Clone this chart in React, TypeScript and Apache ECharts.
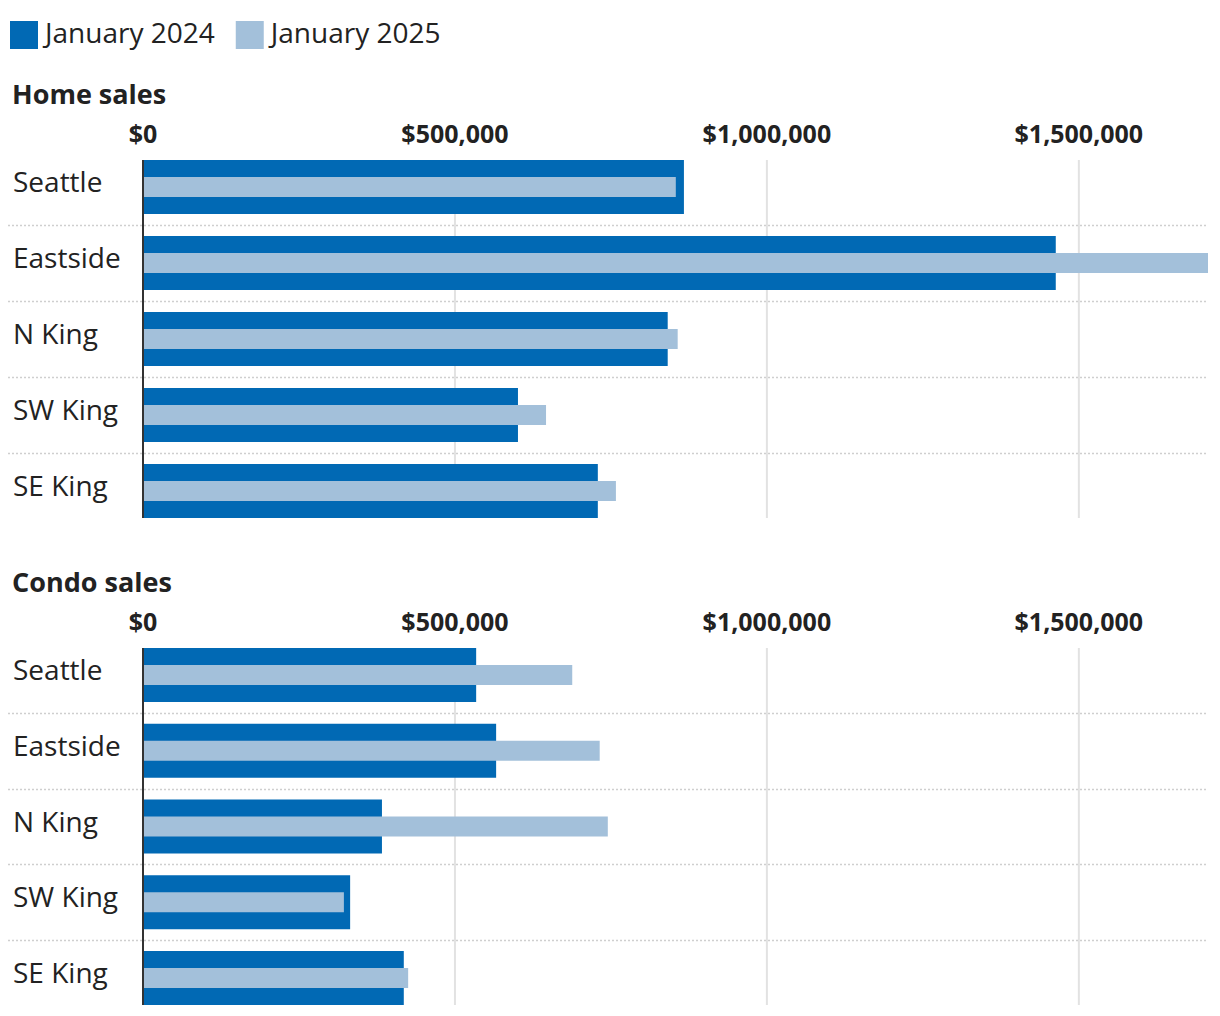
import React, { useEffect, useRef } from "react";
import * as echarts from "echarts";

const CATEGORIES = ["Seattle", "Eastside", "N King", "SW King", "SE King"];
const HOME_2024 = [867000, 1463000, 841000, 601000, 729000];
const HOME_2025 = [854000, 1707000, 857000, 646000, 758000];
const CONDO_2024 = [534000, 566000, 383000, 332000, 418000];
const CONDO_2025 = [688000, 732000, 745000, 322000, 425000];
const TICKS = [0, 500000, 1000000, 1500000];
const SERIES_NAMES = ["January 2024", "January 2025"];
const PANEL_TITLES = ["Home sales", "Condo sales"];

const DARK = "#0169b4";
const LIGHT = "#a3c0da";
const TEXT = "#222222";
const FONT = "'Open Sans', 'Noto Sans', sans-serif";
const BAR_W = 54;
const BAR_W2 = 20;

export default function App() {
  const ref = useRef<HTMLDivElement>(null);
  useEffect(() => {
    document.body.style.margin = "0";
    const chart = echarts.init(ref.current!, null, { renderer: "svg" });
    const maxVal = Math.max(...HOME_2024, ...HOME_2025, ...CONDO_2024, ...CONDO_2025);
    const panels = [
      { top: 149, d24: HOME_2024, d25: HOME_2025, title: PANEL_TITLES[0], titleTop: 80 },
      { top: 637, d24: CONDO_2024, d25: CONDO_2025, title: PANEL_TITLES[1], titleTop: 568 },
    ];

    const grid: any[] = [];
    const xAxis: any[] = [];
    const yAxis: any[] = [];
    const series: any[] = [];
    const title: any[] = [];

    const vLine = (color: string, width: number) => (params: any, api: any) => {
      const v = api.value(0);
      const a = api.coord([v, 0]);
      const b = api.coord([v, CATEGORIES.length - 1]);
      return {
        type: "line",
        shape: { x1: a[0], y1: a[1] - BAR_W / 2, x2: b[0], y2: b[1] + BAR_W / 2 },
        style: { stroke: color, lineWidth: width },
        silent: true,
      };
    };

    panels.forEach((p, i) => {
      title.push({
        text: p.title,
        left: 12,
        top: p.titleTop,
        padding: 0,
        textStyle: { fontFamily: FONT, fontSize: 27, fontWeight: "bold", color: TEXT },
      });
      grid.push({ left: 143, right: 12, top: p.top, height: 380 });
      xAxis.push({
        gridIndex: i,
        type: "value",
        position: "top",
        min: 0,
        max: maxVal,
        interval: 500000,
        axisLine: { show: false },
        axisTick: { show: false },
        splitLine: { show: false },
        axisLabel: {
          showMaxLabel: false,
          margin: 16,
          verticalAlign: "middle",
          fontFamily: FONT,
          fontSize: 25,
          fontWeight: "bold",
          color: TEXT,
          formatter: (v: number) => "$" + v.toLocaleString("en-US"),
        },
      });
      yAxis.push({
        gridIndex: i,
        type: "category",
        inverse: true,
        data: CATEGORIES,
        axisLine: { show: false },
        axisTick: { show: false },
        splitLine: { show: false },
        axisLabel: {
          align: "left",
          margin: 130,
          formatter: (v: string) => "{c|" + v + "}",
          rich: {
            c: {
              fontFamily: FONT,
              fontSize: 28,
              color: TEXT,
              padding: [0, 0, 12, 0],
            },
          },
        },
      });
      yAxis.push({
        gridIndex: i,
        type: "category",
        inverse: true,
        data: CATEGORIES,
        show: false,
      });
      // vertical gridlines (non-zero ticks)
      series.push({
        type: "custom",
        xAxisIndex: i,
        yAxisIndex: 2 * i,
        z: 1,
        silent: true,
        data: TICKS.filter((t) => t > 0).map((t) => [t, 0]),
        renderItem: vLine("#e2e2e2", 2),
      });
      // dotted separators between categories
      series.push({
        type: "custom",
        xAxisIndex: i,
        yAxisIndex: 2 * i,
        z: 1,
        silent: true,
        data: CATEGORIES.slice(1).map((_, k) => [0, k + 1]),
        renderItem: (params: any, api: any) => {
          const k = api.value(1);
          const a = api.coord([0, k - 1]);
          const b = api.coord([0, k]);
          const y = Math.round((a[1] + b[1]) / 2) + 0.5;
          const cs = params.coordSys;
          return {
            type: "line",
            shape: { x1: cs.x - 135, y1: y, x2: cs.x + cs.width, y2: y },
            style: { stroke: "#cfcfcf", lineWidth: 1.5, lineDash: [2, 2] },
            silent: true,
          };
        },
      });
      series.push({
        type: "bar",
        name: SERIES_NAMES[0],
        xAxisIndex: i,
        yAxisIndex: 2 * i,
        barWidth: BAR_W,
        z: 2,
        itemStyle: { color: DARK },
        data: p.d24,
      });
      series.push({
        type: "bar",
        name: SERIES_NAMES[1],
        xAxisIndex: i,
        yAxisIndex: 2 * i + 1,
        barWidth: BAR_W2,
        z: 3,
        itemStyle: { color: LIGHT },
        data: p.d25,
      });
      // zero axis line
      series.push({
        type: "custom",
        xAxisIndex: i,
        yAxisIndex: 2 * i,
        z: 5,
        silent: true,
        data: TICKS.filter((t) => t === 0).map((t) => [t, 0]),
        renderItem: vLine("#333333", 2),
      });
    });

    chart.setOption({
      animation: false,
      backgroundColor: "#ffffff",
      title,
      legend: {
        data: SERIES_NAMES,
        left: 10,
        top: 18,
        padding: 0,
        itemWidth: 28,
        itemHeight: 28,
        itemGap: 21,
        icon: "rect",
        selectedMode: false,
        formatter: (n: string) => "{t|" + n + "}",
        textStyle: {
          fontFamily: FONT,
          fontSize: 28,
          color: TEXT,
          rich: {
            t: { fontFamily: FONT, fontSize: 28, color: TEXT, padding: [0, 0, 6, 2] },
          },
        },
      },
      grid,
      xAxis,
      yAxis,
      series,
    });
    return () => chart.dispose();
  }, []);
  return <div ref={ref} style={{ width: 1220, height: 1016 }} />;
}
